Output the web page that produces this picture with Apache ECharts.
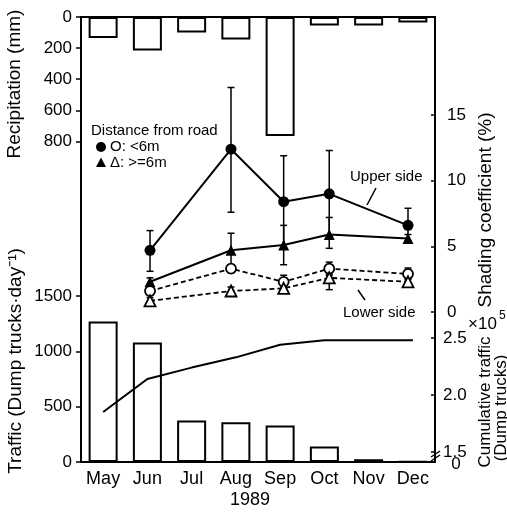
<!DOCTYPE html>
<html><head><meta charset="utf-8">
<script src="https://cdn.jsdelivr.net/npm/echarts@6/dist/echarts.min.js"></script>
<style>html,body{margin:0;padding:0;background:#fff}#c{width:507px;height:512px}</style>
</head><body><div id="c"></div>
<script>
const months = ['May','Jun','Jul','Aug','Sep','Oct','Nov','Dec'];
const precipitation = [135, 215, 100, 145, 765, 55, 55, 35];
const traffic = [1270, 1080, 375, 360, 330, 140, 25, 3];
const cumulativeTraffic = [1.85, 2.14, 2.24, 2.33, 2.44, 2.48, 2.48, 2.48];
const sampleTime = [1.06, 2.89, 4.08, 5.11, 6.89];
const upperNear = [4.7, 12.4, 8.4, 9.0, 6.6];
const upperNearHi = [6.2, 17.1, 11.9, 12.3, 7.9];
const upperNearLo = [3.1, 7.6, 4.9, 5.7, 5.3];
const upperFar = [2.3, 4.7, 5.1, 5.9, 5.6];
const upperFarHi = [2.6, 6.0, 6.6, 7.2, 5.9];
const upperFarLo = [2.0, 3.4, 3.6, 4.85, 5.25];
const lowerNear = [1.6, 3.3, 2.3, 3.3, 2.9];
const lowerNearHi = [1.9, 3.6, 2.8, 3.8, 3.35];
const lowerNearLo = [1.3, 3.0, 1.9, 2.8, 2.5];
const lowerFar = [0.85, 1.6, 1.8, 2.6, 2.3];
const lowerFarHi = [1.1, 1.9, 2.1, 2.9, 2.55];
const lowerFarLo = [0.6, 1.3, 1.45, 1.7, 2.0];
const precipTicks = [0, 200, 400, 600, 800];
const shadingTicks = [0, 5, 10, 15];
const cumTicks = [1.5, 2.0, 2.5];
const cumAxisBreak = 1.412;
const cumBreakLabel = '0';

const FONT = '"Liberation Sans", Arial, Helvetica, sans-serif';
const chart = echarts.init(document.getElementById('c'), null, {renderer: 'canvas'});

function T(text, x, y, size, opts) {
  opts = opts || {};
  const al = opts.align || 'center';
  return {type: 'text', x: x, y: y, rotation: opts.rot || 0, z: 100,
    style: {text: text, font: size + 'px ' + FONT, fill: '#000',
      textAlign: al, align: al, textVerticalAlign: 'middle', verticalAlign: 'middle'}};
}
function L(x1, y1, x2, y2, w) {
  return {type: 'line', z: 100, shape: {x1: x1, y1: y1, x2: x2, y2: y2}, style: {stroke: '#000', lineWidth: w || 1.5}};
}
function errorSeries(lo, hi) {
  return {type: 'custom', xAxisIndex: 1, yAxisIndex: 1, z: 2,
    data: sampleTime.map((t, i) => [t, lo[i], hi[i]]),
    encode: {x: 0, y: [1, 2]},
    renderItem: function (params, api) {
      const x = api.value(0);
      const p1 = api.coord([x, api.value(1)]);
      const p2 = api.coord([x, api.value(2)]);
      const w = 3.5;
      const st = {stroke: '#000', lineWidth: 1.5};
      return {type: 'group', children: [
        {type: 'line', shape: {x1: p1[0], y1: p1[1], x2: p2[0], y2: p2[1]}, style: st},
        {type: 'line', shape: {x1: p1[0] - w, y1: p1[1], x2: p1[0] + w, y2: p1[1]}, style: st},
        {type: 'line', shape: {x1: p2[0] - w, y1: p2[1], x2: p2[0] + w, y2: p2[1]}, style: st}
      ]};
    }
  };
}
function shadingLine(vals, symbol, filled, dashed) {
  return {type: 'line', xAxisIndex: 1, yAxisIndex: 1, z: 4,
    data: sampleTime.map((t, i) => [t, vals[i]]),
    symbol: symbol, symbolSize: symbol === 'circle' ? (filled ? 11 : 10) : 11,
    showAllSymbol: true,
    itemStyle: {color: filled ? '#000' : '#fff', borderColor: '#000', borderWidth: filled ? 0 : 1.8},
    lineStyle: {color: '#000', width: dashed ? 1.8 : 2, type: dashed ? [5, 3] : 'solid'}
  };
}
const labelStyle = {color: '#000', fontSize: 17, fontFamily: FONT};

chart.setOption({
  animation: false,
  backgroundColor: '#fff',
  grid: [
    {left: 81, right: 72, top: 17, bottom: 50, show: true, borderColor: '#000', borderWidth: 2, backgroundColor: 'transparent', z: 10},
    {left: 81, right: 72, top: 17, bottom: 200},
    {left: 81, right: 72, top: 296, bottom: 50}
  ],
  xAxis: [
    {type: 'category', gridIndex: 0, data: months, show: false},
    {type: 'value', gridIndex: 1, min: -0.5, max: 7.5, show: false},
    {type: 'category', gridIndex: 2, data: months, axisLine: {show: false}, axisTick: {show: false},
      axisLabel: {color: '#000', fontSize: 18, fontFamily: FONT, margin: 8}}
  ],
  yAxis: [
    {type: 'value', gridIndex: 0, inverse: true, min: 0, max: 2860, position: 'left',
      axisLine: {show: false, onZero: false}, splitLine: {show: false},
      axisTick: {show: true, length: 5, customValues: precipTicks, lineStyle: {color: '#000', width: 1.5}},
      axisLabel: Object.assign({customValues: precipTicks, margin: 9, formatter: v => String(v)}, labelStyle)},
    {type: 'value', gridIndex: 1, min: 0, max: 22.47, position: 'right',
      axisLine: {show: false, onZero: false}, splitLine: {show: false},
      axisTick: {show: true, inside: true, length: 4, customValues: shadingTicks, lineStyle: {color: '#000', width: 1.5}},
      axisLabel: Object.assign({customValues: shadingTicks, margin: 12, formatter: v => String(v)}, labelStyle)},
    {type: 'value', gridIndex: 2, min: 0, max: 1500, interval: 500, position: 'left',
      axisLine: {show: false, onZero: false}, splitLine: {show: false},
      axisTick: {show: true, length: 5, lineStyle: {color: '#000', width: 1.5}},
      axisLabel: Object.assign({margin: 9, formatter: v => String(v)}, labelStyle)},
    {type: 'value', gridIndex: 2, min: cumAxisBreak, max: 2.868, position: 'right',
      axisLine: {show: false, onZero: false}, splitLine: {show: false},
      axisTick: {show: true, inside: true, length: 4, customValues: cumTicks, lineStyle: {color: '#000', width: 1.5}},
      axisLabel: Object.assign({customValues: cumTicks, margin: 8,
        formatter: v => v.toFixed(1)}, labelStyle)}
  ],
  series: [
    {type: 'bar', xAxisIndex: 0, yAxisIndex: 0, data: precipitation, barWidth: 29,
      itemStyle: {color: '#fff', borderColor: '#000', borderWidth: 2}},
    {type: 'bar', xAxisIndex: 2, yAxisIndex: 2, data: traffic, barWidth: 29,
      itemStyle: {color: '#fff', borderColor: '#000', borderWidth: 2}},
    {type: 'line', xAxisIndex: 2, yAxisIndex: 3, data: cumulativeTraffic, symbol: 'none', z: 5,
      lineStyle: {color: '#000', width: 2}},
    errorSeries(upperNearLo, upperNearHi),
    errorSeries(upperFarLo, upperFarHi),
    errorSeries(lowerNearLo, lowerNearHi),
    errorSeries(lowerFarLo, lowerFarHi),
    shadingLine(upperNear, 'circle', true, false),
    shadingLine(upperFar, 'triangle', true, false),
    shadingLine(lowerNear, 'circle', false, true),
    shadingLine(lowerFar, 'triangle', false, true)
  ],
  graphic: [
    T('Recipitation (mm)', 15, 84, 19, {rot: Math.PI / 2}),
    T('Traffic (Dump trucks\u00b7day\u207b\u00b9)', 16, 361, 19, {rot: Math.PI / 2}),
    T('Shading coefficient (%)', 486, 210, 19, {rot: Math.PI / 2}),
    T('Cumulative traffic', 485, 402, 17, {rot: Math.PI / 2}),
    T('(Dump trucks)', 501, 408, 17, {rot: Math.PI / 2}),
    T('\u00d710', 468, 324, 17, {align: 'left'}),
    T('5', 499, 316, 12, {align: 'left'}),
    T(cumBreakLabel, 456, 464, 17),
    T('1989', 250, 500, 18),
    T('Distance from road', 91, 131, 15, {align: 'left'}),
    {type: 'circle', z: 100, shape: {cx: 101, cy: 147, r: 5}, style: {fill: '#000'}},
    T('O: <6m', 110, 147, 15, {align: 'left'}),
    {type: 'polygon', z: 100, shape: {points: [[101, 157.5], [96, 167], [106, 167]]}, style: {fill: '#000'}},
    T('\u0394: >=6m', 110, 163, 15, {align: 'left'}),
    T('Upper side', 350, 177, 15, {align: 'left'}),
    L(376, 188, 367, 205),
    T('Lower side', 343, 313, 15, {align: 'left'}),
    L(358, 290, 365, 300),
    L(431, 461, 440, 455, 1.5),
    L(431, 457, 440, 451, 1.5)
  ]
});
</script></body></html>
